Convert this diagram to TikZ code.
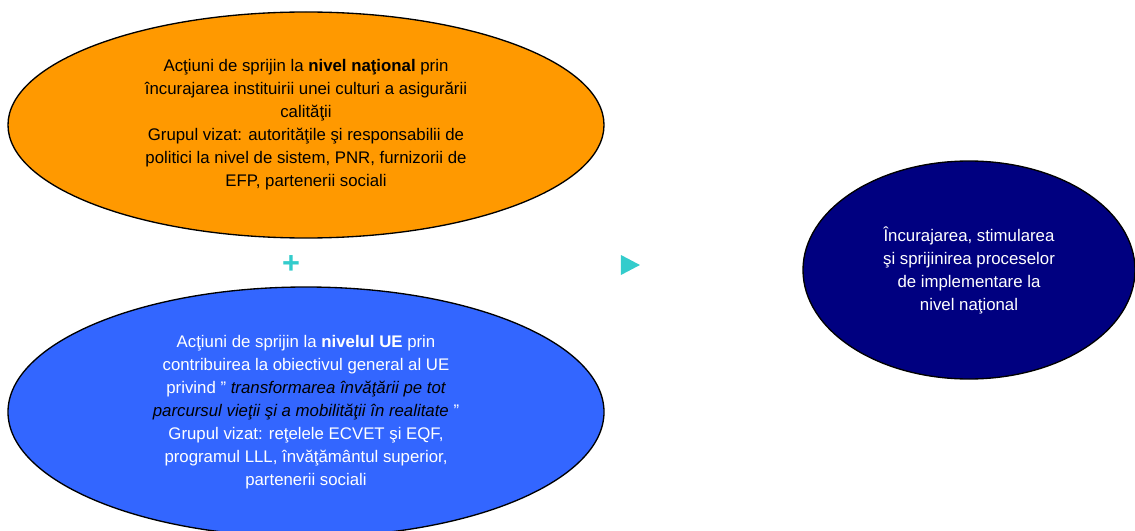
\documentclass[tikz,border=0pt]{standalone}
\usepackage{fontspec}
\setmainfont{Liberation Sans}
\usetikzlibrary{shapes.geometric}
\usetikzlibrary{positioning}
\definecolor{portocaliu}{HTML}{FF9900}
\definecolor{albastru}{HTML}{3366FF}
\definecolor{bleumarin}{HTML}{000080}
\definecolor{turcoaz}{HTML}{33CCCC}
\newcommand{\ghilimea}{\symbol{34}}

\begin{document}
\begin{tikzpicture}[
  x=0.75pt, y=-0.75pt,
  every node/.style={font=\fontsize{12.6}{17.25}\selectfont, align=center},
  bubble/.style = {draw, ellipse, line width=1pt, inner sep=0pt},
  semn/.style = {text=turcoaz, font=\fontsize{23}{24}\selectfont\bfseries, inner sep=0pt},
  varf/.style = {isosceles triangle, isosceles triangle stretches, fill=turcoaz, draw=none,
                 inner sep=0pt, minimum width=15pt, minimum height=14.25pt}
  ]
	\useasboundingbox (0,0) rectangle (1135,531);

	\coordinate (@nat) at (306,125);
	\coordinate (@ue)  at (306,412);
	\coordinate (@imp) at (969,270);

	\node[bubble, fill=portocaliu, minimum width=447pt, minimum height=169.5pt] (national) at (@nat)
		{Acţiuni de sprijin la \textbf{nivel naţional} prin\\
		 încurajarea instituirii unei culturi a asigurării\\
		 calităţii\\
		 Grupul vizat: autorităţile şi responsabilii de\\
		 politici la nivel de sistem, PNR, furnizorii de\\
		 EFP, partenerii sociali};

	\node[bubble, fill=albastru, text=white, minimum width=447pt, minimum height=187.5pt] (european) at (@ue)
		{Acţiuni de sprijin la \textbf{nivelul UE} prin\\
		 contribuirea la obiectivul general al UE\\
		 privind \ghilimea\ {\color{black}\itshape transformarea învăţării pe tot}\\
		 {\color{black}\itshape parcursul vieţii şi a mobilităţii în realitate} \ghilimea\\
		 Grupul vizat: reţelele ECVET şi EQF,\\
		 programul LLL, învăţământul superior,\\
		 partenerii sociali};

	\node[bubble, fill=bleumarin, text=white, minimum width=249pt, minimum height=163.5pt] (implementare) at (@imp)
		{Încurajarea, stimularea\\
		 şi sprijinirea proceselor\\
		 de implementare la\\
		 nivel naţional};

	\node[semn] (plus) at (291,265) {+};
	\node[varf] (sageata) at (627,265) {};

\end{tikzpicture}
\end{document}
